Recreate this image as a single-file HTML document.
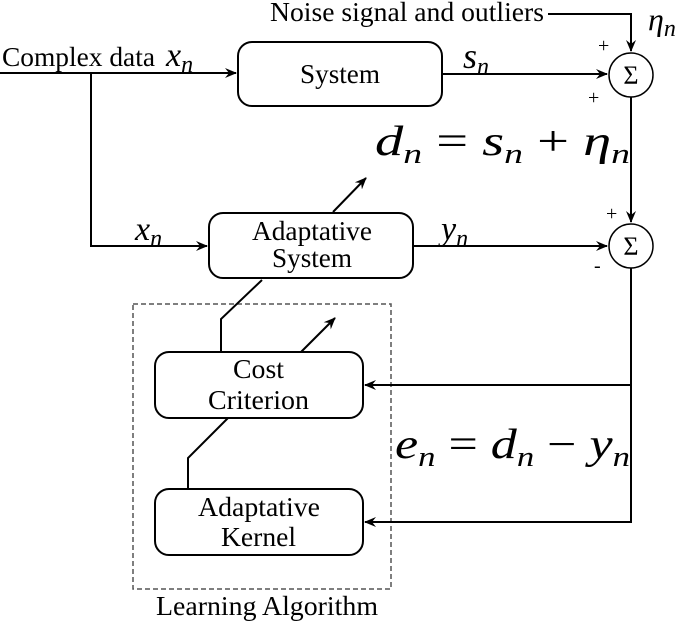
<!DOCTYPE html>
<html><head><style>
body{margin:0;background:#fff}
svg{display:block}
text{font-family:"Liberation Serif",serif;fill:#000}
.m{font-style:italic}
</style></head><body>
<svg width="685" height="628" viewBox="0 0 685 628" xmlns="http://www.w3.org/2000/svg">
<defs><marker id="a" markerWidth="12" markerHeight="10" refX="11" refY="5" orient="auto" markerUnits="userSpaceOnUse"><path d="M0,0 L12,5 L0,10 L4,5 Z" fill="#000"/></marker></defs>
<g stroke="#000" stroke-width="2" fill="none">
<rect x="238" y="42" width="204" height="64" rx="14"/>
<rect x="209" y="213" width="204" height="65" rx="14"/>
<rect x="155" y="352" width="208" height="66" rx="14"/>
<rect x="155" y="489" width="208" height="66" rx="14"/>
<circle cx="631" cy="75" r="22" stroke-width="1.5"/>
<circle cx="631" cy="246" r="22" stroke-width="1.5"/>
<rect x="133" y="304" width="258" height="285" stroke="#555" stroke-width="1.5" stroke-dasharray="5,3"/>
<path d="M0,73 H236" marker-end="url(#a)"/>
<path d="M91,73 V246 H207" marker-end="url(#a)"/>
<path d="M442,74 H607" marker-end="url(#a)"/>
<path d="M413,246 H607" marker-end="url(#a)"/>
<path d="M548,14 H631 V51" marker-end="url(#a)"/>
<path d="M631,97 V222" marker-end="url(#a)"/>
<path d="M631,268 V522 H365" marker-end="url(#a)"/>
<path d="M631,385 H365" marker-end="url(#a)"/>
<path d="M333,212 L366,178" marker-end="url(#a)"/>
<path d="M262,280 L221,319 V352"/>
<path d="M301,352 L335,318" marker-end="url(#a)"/>
<path d="M228,418 L188,458 V489"/>
</g>
<g font-size="27">
<text x="300" y="83" textLength="80" lengthAdjust="spacingAndGlyphs">System</text>
<text x="252" y="240" textLength="120" lengthAdjust="spacingAndGlyphs">Adaptative</text>
<text x="272" y="267" textLength="80" lengthAdjust="spacingAndGlyphs">System</text>
<text x="233" y="378" textLength="51" lengthAdjust="spacingAndGlyphs">Cost</text>
<text x="208" y="409" textLength="101" lengthAdjust="spacingAndGlyphs">Criterion</text>
<text x="198" y="516" textLength="122" lengthAdjust="spacingAndGlyphs">Adaptative</text>
<text x="221" y="546" textLength="75" lengthAdjust="spacingAndGlyphs">Kernel</text>
<text x="156" y="615" textLength="222" lengthAdjust="spacingAndGlyphs">Learning Algorithm</text>
<text x="2" y="66" textLength="153" lengthAdjust="spacingAndGlyphs">Complex data</text>
<text x="270" y="21" textLength="274" lengthAdjust="spacingAndGlyphs">Noise signal and outliers</text>
</g>
<text x="166" y="66" font-size="34" class="m">x<tspan font-size="24" dy="6">n</tspan></text>
<text x="648" y="30" font-size="32" class="m">η<tspan font-size="24" dy="6">n</tspan></text>
<text x="463" y="68" font-size="36" class="m">s<tspan font-size="24" dy="6">n</tspan></text>
<text x="135" y="240" font-size="34" class="m">x<tspan font-size="24" dy="6">n</tspan></text>
<text x="441" y="240" font-size="34" class="m">y<tspan font-size="24" dy="6">n</tspan></text>
<text x="375" y="155" font-size="42" textLength="255" lengthAdjust="spacingAndGlyphs"><tspan class="m">d</tspan><tspan class="m" font-size="28" dy="8">n</tspan><tspan dy="-8"> = </tspan><tspan class="m">s</tspan><tspan class="m" font-size="28" dy="8">n</tspan><tspan dy="-8"> + </tspan><tspan class="m">η</tspan><tspan class="m" font-size="28" dy="8">n</tspan></text>
<text x="395" y="458" font-size="42" textLength="235" lengthAdjust="spacingAndGlyphs"><tspan class="m">e</tspan><tspan class="m" font-size="28" dy="8">n</tspan><tspan dy="-8"> = </tspan><tspan class="m">d</tspan><tspan class="m" font-size="28" dy="8">n</tspan><tspan dy="-8"> − </tspan><tspan class="m">y</tspan><tspan class="m" font-size="28" dy="8">n</tspan></text>
<text x="631" y="84" font-size="26" text-anchor="middle">Σ</text>
<text x="631" y="255" font-size="26" text-anchor="middle">Σ</text>
<g font-family="Liberation Sans,sans-serif" font-size="20">
<text x="598" y="52">+</text><text x="588" y="104">+</text>
<text x="606" y="220">+</text><text x="594" y="272">-</text>
</g>
</svg>
</body></html>
